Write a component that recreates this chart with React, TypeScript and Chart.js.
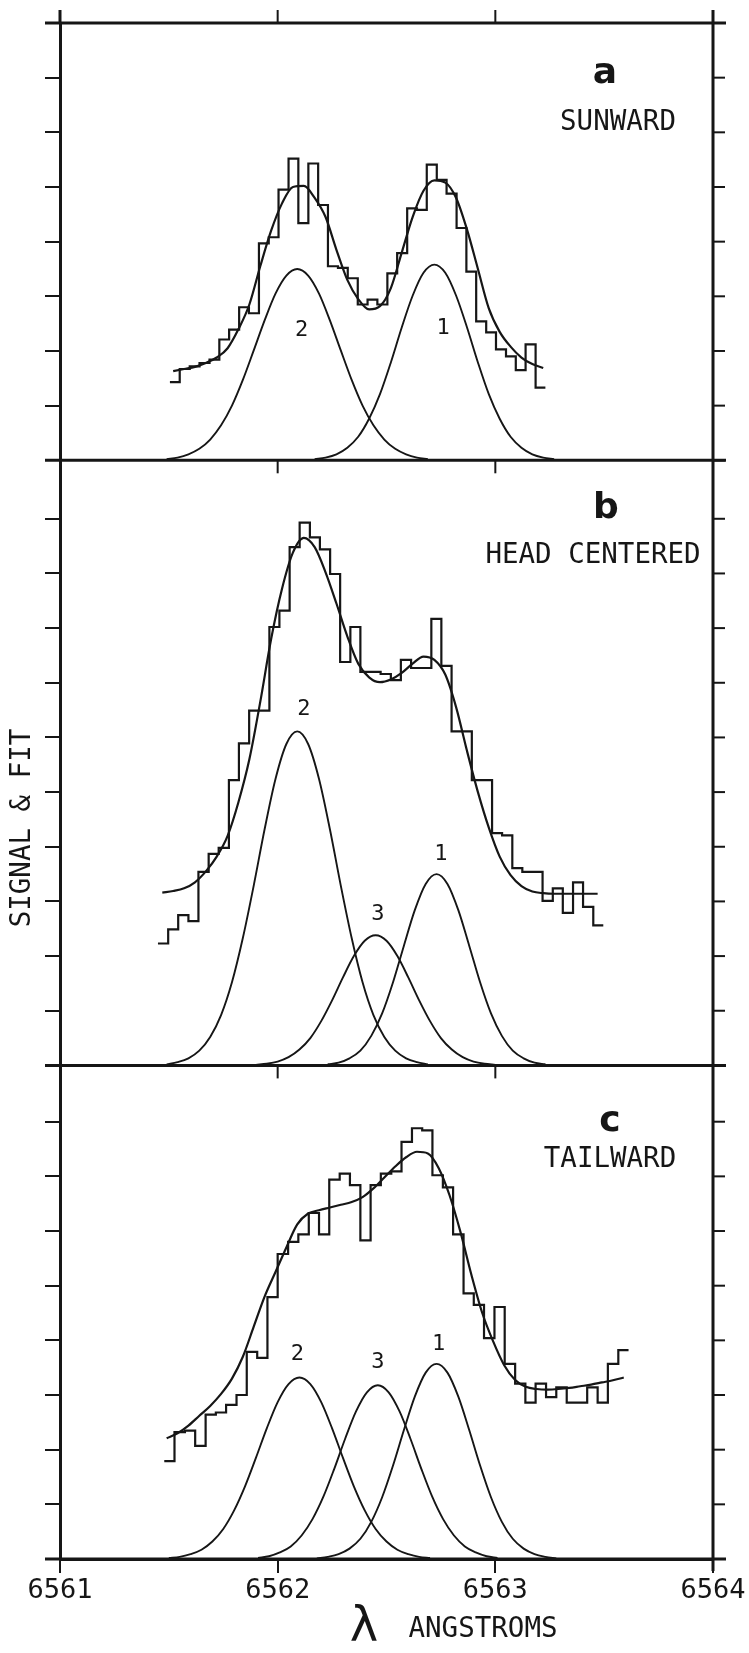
import { useEffect, useRef } from 'react';
import { Chart, registerables } from 'chart.js';

Chart.register(...registerables);

const INK = '#161616';
const MONO = "'DejaVu Sans Mono', monospace";
const SANS = "'DejaVu Sans', sans-serif";

// ---- axes / text ----
const xTickValues = [6561, 6562, 6563, 6564];
const xTickLabels = ['6561', '6562', '6563', '6564'];
const xAxisSymbol = 'λ';
const xAxisTitle = 'ANGSTROMS';
const yAxisTitle = 'SIGNAL & FIT';
const panelLetters = ['a', 'b', 'c'];
const panelTitles = ['SUNWARD', 'HEAD CENTERED', 'TAILWARD'];
const panelMax = [8, 11.07, 9.03];

// ---- panel a (sunward) ----
const aSignalEdges = [6561.505, 6561.550, 6561.596, 6561.641, 6561.687, 6561.732, 6561.777, 6561.823, 6561.868, 6561.914, 6561.959, 6562.004, 6562.050, 6562.095, 6562.141, 6562.186, 6562.231, 6562.277, 6562.322, 6562.368, 6562.413, 6562.458, 6562.504, 6562.549, 6562.595, 6562.640, 6562.685, 6562.731, 6562.776, 6562.822, 6562.867, 6562.912, 6562.958, 6563.003, 6563.049, 6563.094, 6563.139, 6563.185, 6563.230];
const aSignal = [1.43, 1.67, 1.72, 1.78, 1.84, 2.21, 2.39, 2.80, 2.69, 3.97, 4.08, 4.95, 5.52, 4.34, 5.43, 4.67, 3.55, 3.52, 3.33, 2.85, 2.94, 2.85, 3.42, 3.79, 4.61, 4.58, 5.41, 5.13, 4.88, 4.25, 3.45, 2.54, 2.34, 2.03, 1.90, 1.65, 2.12, 1.33];
const aFitX = [6561.52, 6561.57, 6561.62, 6561.67, 6561.72, 6561.77, 6561.82, 6561.87, 6561.92, 6561.97, 6562.02, 6562.07, 6562.12, 6562.17, 6562.22, 6562.27, 6562.32, 6562.37, 6562.42, 6562.47, 6562.52, 6562.57, 6562.62, 6562.67, 6562.72, 6562.77, 6562.82, 6562.87, 6562.92, 6562.97, 6563.02, 6563.07, 6563.12, 6563.17, 6563.22];
const aFit = [1.63, 1.67, 1.71, 1.78, 1.88, 2.05, 2.40, 2.85, 3.55, 4.20, 4.70, 5.00, 5.02, 4.80, 4.45, 3.85, 3.30, 2.95, 2.76, 2.82, 3.15, 3.80, 4.45, 4.93, 5.12, 5.08, 4.80, 4.22, 3.50, 2.78, 2.35, 2.08, 1.88, 1.76, 1.69];
const aComp2X = [6561.49, 6561.54, 6561.59, 6561.64, 6561.69, 6561.74, 6561.79, 6561.84, 6561.89, 6561.94, 6561.99, 6562.04, 6562.09, 6562.14, 6562.19, 6562.24, 6562.29, 6562.34, 6562.39, 6562.44, 6562.49, 6562.54, 6562.59, 6562.64, 6562.69];
const aComp2 = [0.02, 0.05, 0.11, 0.21, 0.38, 0.64, 1.00, 1.47, 2.01, 2.56, 3.05, 3.38, 3.50, 3.38, 3.05, 2.56, 2.01, 1.47, 1.00, 0.64, 0.38, 0.21, 0.11, 0.05, 0.02];
const aComp1X = [6562.17, 6562.22, 6562.27, 6562.32, 6562.37, 6562.42, 6562.47, 6562.52, 6562.57, 6562.62, 6562.67, 6562.72, 6562.77, 6562.82, 6562.87, 6562.92, 6562.97, 6563.02, 6563.07, 6563.12, 6563.17, 6563.22, 6563.27];
const aComp1 = [0.02, 0.05, 0.11, 0.23, 0.43, 0.76, 1.21, 1.79, 2.43, 3.01, 3.43, 3.58, 3.43, 3.01, 2.43, 1.79, 1.21, 0.76, 0.43, 0.23, 0.11, 0.05, 0.02];
const aLabelText = ['2', '1'];
const aLabelX = [6562.11, 6562.76];
const aLabelY = [2.38, 2.41];

// ---- panel b (head centered) ----
const bSignalEdges = [6561.450, 6561.497, 6561.543, 6561.590, 6561.636, 6561.683, 6561.729, 6561.776, 6561.822, 6561.869, 6561.915, 6561.962, 6562.008, 6562.055, 6562.101, 6562.148, 6562.194, 6562.241, 6562.287, 6562.334, 6562.380, 6562.427, 6562.473, 6562.520, 6562.566, 6562.613, 6562.659, 6562.706, 6562.752, 6562.799, 6562.845, 6562.892, 6562.938, 6562.985, 6563.031, 6563.078, 6563.124, 6563.171, 6563.217, 6563.264, 6563.310, 6563.357, 6563.403, 6563.450, 6563.496];
const bSignal = [2.23, 2.49, 2.75, 2.64, 3.54, 3.87, 3.98, 5.22, 5.89, 6.49, 6.49, 8.02, 8.32, 9.48, 9.93, 9.66, 9.44, 8.99, 7.38, 8.02, 7.20, 7.20, 7.16, 7.05, 7.42, 7.27, 7.27, 8.17, 7.31, 6.11, 6.11, 5.22, 5.22, 4.25, 4.21, 3.61, 3.54, 3.54, 3.01, 3.24, 2.79, 3.35, 2.90, 2.56];
const bFitX = [6561.47, 6561.52, 6561.57, 6561.62, 6561.67, 6561.72, 6561.77, 6561.82, 6561.87, 6561.92, 6561.97, 6562.02, 6562.07, 6562.12, 6562.17, 6562.22, 6562.27, 6562.32, 6562.37, 6562.42, 6562.47, 6562.52, 6562.57, 6562.62, 6562.67, 6562.72, 6562.77, 6562.82, 6562.87, 6562.92, 6562.97, 6563.02, 6563.07, 6563.12, 6563.17, 6563.22, 6563.27, 6563.32, 6563.37, 6563.42, 6563.47];
const bFit = [3.16, 3.19, 3.24, 3.35, 3.55, 3.82, 4.20, 4.82, 5.60, 6.65, 7.80, 8.72, 9.38, 9.65, 9.48, 9.02, 8.45, 7.85, 7.35, 7.10, 7.01, 7.06, 7.18, 7.35, 7.48, 7.42, 7.15, 6.55, 5.75, 5.00, 4.35, 3.82, 3.48, 3.28, 3.18, 3.15, 3.14, 3.14, 3.14, 3.14, 3.14];
const bComp2X = [6561.49, 6561.54, 6561.59, 6561.64, 6561.69, 6561.74, 6561.79, 6561.84, 6561.89, 6561.94, 6561.99, 6562.04, 6562.09, 6562.14, 6562.19, 6562.24, 6562.29, 6562.34, 6562.39, 6562.44, 6562.49, 6562.54, 6562.59, 6562.64, 6562.69];
const bComp2 = [0.02, 0.06, 0.13, 0.27, 0.52, 0.92, 1.52, 2.33, 3.29, 4.32, 5.24, 5.88, 6.11, 5.88, 5.24, 4.32, 3.29, 2.33, 1.52, 0.92, 0.52, 0.27, 0.13, 0.06, 0.02];
const bComp3X = [6561.90, 6561.95, 6562.00, 6562.05, 6562.10, 6562.15, 6562.20, 6562.25, 6562.30, 6562.35, 6562.40, 6562.45, 6562.50, 6562.55, 6562.60, 6562.65, 6562.70, 6562.75, 6562.80, 6562.85, 6562.90, 6562.95, 6563.00];
const bComp3 = [0.01, 0.03, 0.07, 0.15, 0.29, 0.50, 0.81, 1.19, 1.61, 2.00, 2.28, 2.38, 2.28, 2.00, 1.61, 1.19, 0.81, 0.50, 0.29, 0.15, 0.07, 0.03, 0.01];
const bComp1X = [6562.23, 6562.28, 6562.33, 6562.38, 6562.43, 6562.48, 6562.53, 6562.58, 6562.63, 6562.68, 6562.73, 6562.78, 6562.83, 6562.88, 6562.93, 6562.98, 6563.03, 6563.08, 6563.13, 6563.18, 6563.23];
const bComp1 = [0.02, 0.05, 0.13, 0.27, 0.54, 0.95, 1.52, 2.19, 2.84, 3.32, 3.50, 3.32, 2.84, 2.19, 1.52, 0.95, 0.54, 0.27, 0.13, 0.05, 0.02];
const bLabelText = ['2', '3', '1'];
const bLabelX = [6562.12, 6562.46, 6562.75];
const bLabelY = [6.51, 2.77, 3.87];

// ---- panel c (tailward) ----
const cSignalEdges = [6561.479, 6561.526, 6561.574, 6561.621, 6561.669, 6561.716, 6561.763, 6561.811, 6561.858, 6561.906, 6561.953, 6562.000, 6562.048, 6562.095, 6562.143, 6562.190, 6562.237, 6562.285, 6562.332, 6562.380, 6562.427, 6562.474, 6562.522, 6562.569, 6562.617, 6562.664, 6562.711, 6562.759, 6562.806, 6562.854, 6562.901, 6562.948, 6562.996, 6563.043, 6563.091, 6563.138, 6563.185, 6563.233, 6563.280, 6563.328, 6563.375, 6563.422, 6563.470, 6563.517, 6563.565, 6563.612];
const cSignal = [1.79, 2.32, 2.35, 2.07, 2.64, 2.68, 2.82, 3.00, 3.79, 3.68, 4.79, 5.58, 5.80, 5.94, 6.33, 5.94, 6.94, 7.05, 6.84, 5.83, 6.84, 7.05, 7.09, 7.63, 7.88, 7.84, 7.02, 6.80, 5.94, 4.86, 4.65, 4.04, 4.61, 3.57, 3.21, 2.86, 3.21, 2.96, 3.14, 2.86, 2.86, 3.14, 2.86, 3.57, 3.82];
const cFitX = [6561.49, 6561.54, 6561.59, 6561.64, 6561.69, 6561.74, 6561.79, 6561.84, 6561.89, 6561.94, 6561.99, 6562.04, 6562.09, 6562.14, 6562.19, 6562.24, 6562.29, 6562.34, 6562.39, 6562.44, 6562.49, 6562.54, 6562.59, 6562.64, 6562.69, 6562.74, 6562.79, 6562.84, 6562.89, 6562.94, 6562.99, 6563.04, 6563.09, 6563.14, 6563.19, 6563.24, 6563.29, 6563.34, 6563.39, 6563.44, 6563.49, 6563.54, 6563.59];
const cFit = [2.21, 2.30, 2.44, 2.62, 2.80, 3.02, 3.30, 3.70, 4.25, 4.80, 5.25, 5.70, 6.12, 6.32, 6.38, 6.43, 6.48, 6.53, 6.62, 6.78, 6.98, 7.18, 7.35, 7.45, 7.42, 7.15, 6.65, 5.98, 5.20, 4.50, 3.98, 3.55, 3.28, 3.15, 3.11, 3.10, 3.11, 3.13, 3.16, 3.19, 3.23, 3.27, 3.32];
const cComp2X = [6561.50, 6561.55, 6561.60, 6561.65, 6561.70, 6561.75, 6561.80, 6561.85, 6561.90, 6561.95, 6562.00, 6562.05, 6562.10, 6562.15, 6562.20, 6562.25, 6562.30, 6562.35, 6562.40, 6562.45, 6562.50, 6562.55, 6562.60, 6562.65, 6562.70];
const cComp2 = [0.02, 0.04, 0.09, 0.17, 0.32, 0.55, 0.89, 1.33, 1.85, 2.39, 2.87, 3.20, 3.32, 3.20, 2.87, 2.39, 1.85, 1.33, 0.89, 0.55, 0.32, 0.17, 0.09, 0.04, 0.02];
const cComp3X = [6561.91, 6561.96, 6562.01, 6562.06, 6562.11, 6562.16, 6562.21, 6562.26, 6562.31, 6562.36, 6562.41, 6562.46, 6562.51, 6562.56, 6562.61, 6562.66, 6562.71, 6562.76, 6562.81, 6562.86, 6562.91, 6562.96, 6563.01];
const cComp3 = [0.02, 0.05, 0.12, 0.23, 0.43, 0.73, 1.14, 1.65, 2.20, 2.70, 3.05, 3.18, 3.05, 2.70, 2.20, 1.65, 1.14, 0.73, 0.43, 0.23, 0.12, 0.05, 0.02];
const cComp1X = [6562.18, 6562.23, 6562.28, 6562.33, 6562.38, 6562.43, 6562.48, 6562.53, 6562.58, 6562.63, 6562.68, 6562.73, 6562.78, 6562.83, 6562.88, 6562.93, 6562.98, 6563.03, 6563.08, 6563.13, 6563.18, 6563.23, 6563.28];
const cComp1 = [0.01, 0.04, 0.09, 0.19, 0.37, 0.68, 1.13, 1.71, 2.36, 2.97, 3.41, 3.57, 3.41, 2.97, 2.36, 1.71, 1.13, 0.68, 0.37, 0.19, 0.09, 0.04, 0.01];
const cLabelText = ['2', '3', '1'];
const cLabelX = [6562.09, 6562.46, 6562.74];
const cLabelY = [3.74, 3.59, 3.92];

// ---- assembly ----
const panels = [
  { axis: 'yA', edges: aSignalEdges, signal: aSignal, fitX: aFitX, fit: aFit,
    comps: [[aComp2X, aComp2], [aComp1X, aComp1]], lt: aLabelText, lx: aLabelX, ly: aLabelY },
  { axis: 'yB', edges: bSignalEdges, signal: bSignal, fitX: bFitX, fit: bFit,
    comps: [[bComp2X, bComp2], [bComp3X, bComp3], [bComp1X, bComp1]], lt: bLabelText, lx: bLabelX, ly: bLabelY },
  { axis: 'yC', edges: cSignalEdges, signal: cSignal, fitX: cFitX, fit: cFit,
    comps: [[cComp2X, cComp2], [cComp3X, cComp3], [cComp1X, cComp1]], lt: cLabelText, lx: cLabelX, ly: cLabelY },
];

const toPoints = (xs: number[], ys: number[]) => xs.map((x, i) => ({ x, y: ys[i] }));
const toSteps = (edges: number[], vals: number[]) =>
  edges.map((x, i) => ({ x, y: vals[Math.min(i, vals.length - 1)] }));

function buildDatasets() {
  const ds: any[] = [];
  const base = { xAxisID: 'x', borderColor: INK, backgroundColor: 'transparent', pointRadius: 0, pointHoverRadius: 0, fill: false };
  panels.forEach((p) => {
    ds.push({ ...base, yAxisID: p.axis, data: toSteps(p.edges, p.signal), stepped: true, borderWidth: 2.2 });
    ds.push({ ...base, yAxisID: p.axis, data: toPoints(p.fitX, p.fit), cubicInterpolationMode: 'monotone', borderWidth: 2.2 });
    p.comps.forEach(([xs, ys]) => {
      ds.push({ ...base, yAxisID: p.axis, data: toPoints(xs as number[], ys as number[]), cubicInterpolationMode: 'monotone', borderWidth: 1.9 });
    });
  });
  return ds;
}

function yScale(max: number, weight: number) {
  return {
    type: 'linear', position: 'left', stack: 'panels', stackWeight: max, weight,
    min: 0, max, offset: false,
    border: { display: true, color: INK, width: 3 },
    grid: { drawOnChartArea: false, drawTicks: true, tickLength: 15, color: INK, lineWidth: 2 },
    ticks: { display: false, stepSize: 1 },
    afterFit: (s: any) => { s.width = 15; },
  };
}

function line(ctx: CanvasRenderingContext2D, x1: number, y1: number, x2: number, y2: number) {
  ctx.beginPath(); ctx.moveTo(x1, y1); ctx.lineTo(x2, y2); ctx.stroke();
}

const decorPlugin = {
  id: 'decor',
  afterDraw(chart: any) {
    const { ctx, chartArea: ca, scales } = chart;
    const xs = scales.x;
    const ys = [scales.yA, scales.yB, scales.yC];
    ctx.save();
    ctx.strokeStyle = INK;
    ctx.fillStyle = INK;
    ctx.lineCap = 'butt';
    // frame lines
    ctx.lineWidth = 3;
    line(ctx, ca.left - 15, ca.top, ca.right + 13, ca.top);
    ys.forEach((s: any) => line(ctx, ca.left - 15, s.bottom, ca.right + 13, s.bottom));
    line(ctx, ca.right, ca.top - 13, ca.right, ca.bottom + 12);
    line(ctx, ca.left, ca.top - 13, ca.left, ca.top);
    // ticks
    ctx.lineWidth = 2;
    xs.ticks.forEach((t: any) => {
      const px = xs.getPixelForValue(t.value);
      line(ctx, px, ca.top - 13, px, ca.top);
      if (t.value > xs.min && t.value < xs.max) {
        ys.slice(0, 2).forEach((s: any) => line(ctx, px, s.bottom, px, s.bottom + 13));
      }
    });
    ys.forEach((s: any) => s.ticks.forEach((t: any) => {
      const py = s.getPixelForValue(t.value);
      line(ctx, ca.right, py, ca.right + 12, py);
    }));
    // texts
    ctx.textAlign = 'center';
    ctx.textBaseline = 'middle';
    const letterPos = [[-108, 51], [-107, 48], [-103, 56]];
    const titlePos = [[-95, 100], [-120, 96], [-103, 94]];
    ys.forEach((s: any, i: number) => {
      ctx.font = `bold 36px ${SANS}`;
      ctx.fillText(panelLetters[i], ca.right + letterPos[i][0], s.top + letterPos[i][1]);
      ctx.font = `27.5px ${MONO}`;
      ctx.fillText(panelTitles[i], ca.right + titlePos[i][0], s.top + titlePos[i][1]);
      const p = panels[i];
      ctx.font = `22px ${MONO}`;
      p.lt.forEach((txt: string, k: number) => {
        ctx.fillText(txt, xs.getPixelForValue(p.lx[k]), s.getPixelForValue(p.ly[k]));
      });
    });
    // axis titles
    ctx.font = `27.5px ${MONO}`;
    ctx.fillText(xAxisTitle, ca.left + 423, ca.bottom + 71);
    ctx.font = `48px ${SANS}`;
    ctx.fillText(xAxisSymbol, ca.left + 304, ca.bottom + 70);
    ctx.save();
    ctx.translate(23, 828);
    ctx.rotate(-Math.PI / 2);
    ctx.font = `27.5px ${MONO}`;
    ctx.fillText(yAxisTitle, 0, 0);
    ctx.restore();
    ctx.restore();
  },
};

export default function App() {
  const ref = useRef<HTMLCanvasElement>(null);
  useEffect(() => {
    const canvas = ref.current;
    if (!canvas) return;
    const chart = new Chart(canvas, {
      type: 'line',
      data: { datasets: buildDatasets() },
      options: {
        responsive: false,
        maintainAspectRatio: false,
        animation: false,
        devicePixelRatio: 1,
        events: [],
        layout: { padding: { left: 45, right: 36, top: 23, bottom: 34 } },
        plugins: { legend: { display: false }, tooltip: { enabled: false }, title: { display: false } },
        scales: {
          x: {
            type: 'linear', position: 'bottom', min: 6561, max: 6564,
            border: { display: true, color: INK, width: 3 },
            grid: { drawOnChartArea: false, drawTicks: true, tickLength: 14, color: INK, lineWidth: 2 },
            ticks: {
              stepSize: 1, autoSkip: false, maxRotation: 0, minRotation: 0, color: INK, padding: 2,
              font: { family: MONO, size: 27 },
              callback: (v: any) => xTickLabels[xTickValues.indexOf(Number(v))] ?? '',
            },
            afterFit: (s: any) => { s.height = 60; s.paddingLeft = 0; s.paddingRight = 0; },
          },
          yA: yScale(panelMax[0], 3),
          yB: yScale(panelMax[1], 2),
          yC: yScale(panelMax[2], 1),
        } as any,
      },
      plugins: [decorPlugin],
    } as any);
    return () => chart.destroy();
  }, []);
  return (
    <div style={{ position: 'absolute', left: 0, top: 0, width: 749, height: 1653, background: '#fff' }}>
      <canvas ref={ref} width={749} height={1653} style={{ display: 'block', width: 749, height: 1653 }} />
    </div>
  );
}
